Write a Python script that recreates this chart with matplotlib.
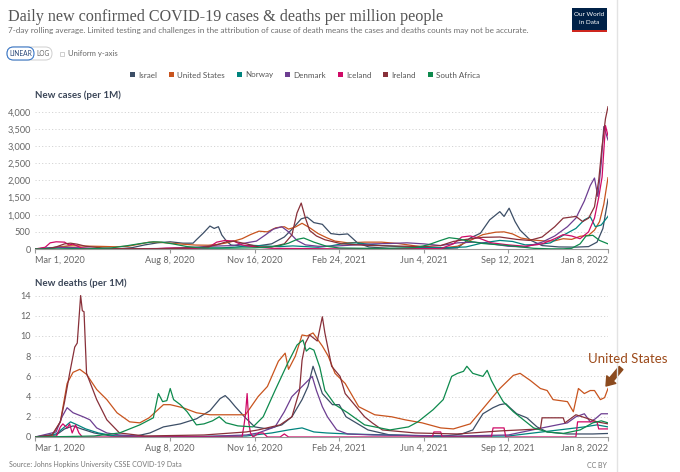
import numpy as np
import pandas as pd
import matplotlib
matplotlib.use("Agg")
import matplotlib.pyplot as plt
from matplotlib.patches import Patch, Rectangle, FancyBboxPatch
from matplotlib.transforms import Affine2D
from matplotlib.ticker import FuncFormatter

plt.rcParams["font.family"] = ["Lato", "DejaVu Sans"]

START = pd.Timestamp("2020-03-01")
END = pd.Timestamp("2022-01-08")

COUNTRIES = ["Israel", "United States", "Norway", "Denmark", "Iceland", "Ireland", "South Africa"]
COLORS = ["#3C4E66", "#C8541E", "#00847E", "#6D3E91", "#CF0A66", "#883039", "#0E8A4D"]

XTICK_DATES = ["2020-03-01", "2020-08-08", "2020-11-16", "2021-02-24", "2021-06-04", "2021-09-12", "2022-01-08"]
XTICK_LABELS = ["Mar 1, 2020", "Aug 8, 2020", "Nov 16, 2020", "Feb 24, 2021", "Jun 4, 2021", "Sep 12, 2021", "Jan 8, 2022"]

# ---- new cases per 1M (days since Mar 1 2020, value) ----
isr_c_d = [0, 15, 25, 35, 45, 60, 80, 100, 115, 130, 145, 160, 175, 187, 191, 199, 207, 212, 217, 221, 227, 232, 245, 260,
           280, 295, 305, 315, 322, 330, 340, 350, 360, 370, 382, 395, 420, 470, 500, 515, 527, 538, 550, 555, 561, 568,
           574, 586, 600, 620, 640, 655, 665, 672, 678]
isr_c = [0, 5, 40, 65, 40, 15, 5, 8, 40, 120, 180, 210, 170, 170, 270, 460, 670, 600, 650, 410, 215, 117, 85, 80,
         150, 350, 600, 880, 930, 770, 720, 450, 420, 440, 170, 60, 15, 5, 30, 320, 460, 850, 1090, 950, 1190, 800,
         550, 260, 100, 60, 55, 70, 200, 600, 1450]

us_c_d = [0, 15, 25, 40, 60, 80, 95, 110, 125, 135, 145, 160, 175, 190, 205, 215, 225, 235, 245, 255, 265, 275, 285,
          295, 300, 308, 316, 325, 335, 345, 355, 370, 390, 410, 430, 450, 470, 485, 500, 515, 530, 545, 555, 565, 575,
          590, 605, 615, 625, 635, 645, 655, 662, 668, 673, 678]
us_c = [0, 5, 50, 95, 85, 75, 65, 80, 150, 200, 200, 170, 140, 115, 110, 130, 170, 230, 300, 420, 520, 500, 620,
        650, 580, 640, 750, 620, 450, 330, 230, 180, 200, 200, 160, 90, 45, 40, 80, 250, 420, 490, 500, 440, 320,
        260, 230, 240, 300, 280, 370, 400, 550, 800, 1300, 2080]

no_c_d = [0, 15, 25, 35, 50, 80, 110, 140, 160, 180, 200, 220, 240, 255, 270, 290, 305, 320, 335, 350, 365, 380, 395,
          410, 430, 460, 490, 510, 530, 550, 565, 580, 595, 610, 625, 640, 650, 657, 663, 670, 678]
no_c = [0, 30, 50, 30, 10, 3, 2, 5, 10, 20, 25, 30, 60, 110, 90, 70, 90, 70, 50, 90, 160, 180, 140,
        100, 70, 40, 40, 60, 180, 250, 220, 120, 130, 180, 400, 600, 850, 940, 650, 700, 950]

dk_c_d = [0, 15, 30, 45, 60, 90, 120, 150, 170, 190, 205, 220, 235, 250, 262, 272, 282, 292, 300, 310, 320, 335, 350,
          365, 380, 400, 420, 440, 460, 480, 500, 520, 540, 560, 580, 600, 615, 630, 640, 650, 657, 662, 666, 670,
          673, 678]
dk_c = [0, 30, 50, 35, 25, 8, 8, 15, 30, 50, 80, 90, 100, 180, 230, 400, 580, 650, 500, 250, 120, 80, 80,
        100, 120, 150, 160, 180, 150, 100, 180, 200, 150, 80, 60, 200, 380, 650, 900, 1400, 1850, 2070, 1530, 2500,
        3570, 3180]

is_c_d = [0, 12, 18, 25, 35, 40, 45, 48, 55, 70, 100, 140, 155, 165, 185, 205, 215, 225, 235, 245, 260, 280, 300,
          330, 360, 400, 440, 480, 495, 505, 515, 525, 540, 560, 580, 600, 615, 625, 635, 645, 655, 662, 667, 671,
          675, 678]
is_c = [0, 50, 180, 210, 200, 120, 140, 110, 30, 3, 1, 5, 25, 30, 15, 40, 200, 250, 230, 120, 60, 20, 15,
        10, 5, 15, 10, 10, 150, 350, 380, 320, 180, 120, 80, 150, 300, 420, 380, 300, 500, 900, 1500, 2100,
        3600, 3300]

ie_c_d = [0, 15, 25, 35, 42, 50, 60, 80, 100, 130, 160, 180, 200, 215, 225, 235, 250, 265, 280, 295, 304, 310, 315,
          320, 325, 333, 343, 363, 390, 420, 460, 480, 495, 510, 530, 550, 570, 585, 600, 615, 625, 640, 648, 655,
          662, 667, 671, 675, 678]
ie_c = [0, 10, 60, 150, 170, 140, 80, 30, 10, 4, 10, 30, 50, 120, 200, 230, 150, 60, 60, 150, 410, 1050, 1340,
        900, 540, 380, 270, 150, 110, 90, 70, 100, 220, 280, 340, 350, 280, 250, 350, 650, 900, 950, 800, 900,
        1230, 2000, 3000, 3800, 4150]

za_c_d = [0, 30, 60, 90, 110, 125, 140, 150, 165, 180, 200, 230, 260, 275, 290, 300, 310, 318, 330, 345, 360, 390,
          420, 450, 465, 480, 490, 500, 515, 530, 545, 560, 575, 590, 610, 625, 635, 645, 652, 660, 668, 678]
za_c = [0, 5, 5, 30, 100, 160, 210, 200, 140, 70, 30, 25, 35, 50, 100, 170, 280, 320, 200, 80, 30, 20,
        20, 40, 120, 250, 330, 300, 220, 160, 130, 100, 60, 20, 5, 5, 20, 150, 380, 400, 250, 150]

# ---- new deaths per 1M ----
isr_m_d = [0, 25, 35, 45, 55, 70, 90, 120, 136, 152, 172, 191, 207, 219, 225, 230, 237, 249, 260, 275, 292, 304,
           316, 323, 329, 334, 340, 352, 360, 368, 380, 394, 420, 480, 505, 518, 530, 542, 550, 557, 562, 570, 582,
           594, 606, 630, 660, 678]
isr_m = [0, 0.2, 0.8, 1.1, 0.8, 0.4, 0.1, 0.1, 0.4, 1.0, 1.3, 1.8, 2.6, 3.8, 4.1, 3.7, 3.0, 1.9, 1.0, 0.8, 1.2, 2.0,
         3.7, 5.0, 7.0, 5.8, 4.3, 3.2, 3.2, 2.0, 1.4, 0.7, 0.2, 0.05, 0.3, 0.7, 2.3, 2.9, 3.2, 3.3, 2.9, 2.3, 1.9,
         1.0, 0.5, 0.3, 0.3, 0.35]

us_m_d = [0, 20, 30, 38, 45, 53, 61, 73, 85, 97, 112, 124, 135, 152, 160, 175, 191, 207, 231, 249, 264, 275, 288,
          296, 300, 308, 316, 322, 329, 340, 347, 355, 367, 383, 402, 422, 438, 458, 480, 495, 515, 535, 550, 566,
          574, 586, 598, 606, 613, 630, 637, 643, 650, 657, 662, 669, 674, 678]
us_m = [0, 0.1, 1.5, 5.3, 6.4, 6.7, 6.2, 4.7, 3.7, 2.4, 1.5, 1.4, 1.9, 3.2, 3.2, 2.9, 2.4, 2.2, 2.2, 2.2, 4.0, 5.0,
        7.5, 8.3, 6.7, 8.0, 10.1, 10.0, 10.3, 9.0, 8.0, 6.3, 5.3, 3.0, 2.2, 2.0, 1.7, 1.4, 0.9, 0.8, 1.3, 3.3, 4.8,
        6.1, 6.3, 5.6, 4.8, 4.6, 3.7, 3.5, 2.5, 4.8, 4.3, 4.6, 4.6, 3.7, 3.9, 4.8]

no_m_d = [0, 25, 35, 42, 50, 60, 75, 95, 130, 250, 280, 300, 316, 330, 345, 370, 420, 500, 560, 600, 630, 650, 665,
          678]
no_m = [0, 0.3, 1.0, 1.5, 1.2, 0.8, 0.4, 0.1, 0.0, 0.1, 0.4, 0.7, 0.9, 0.5, 0.4, 0.3, 0.2, 0.05, 0.1, 0.5, 0.8, 1.0,
        1.2, 1.0]

dk_m_d = [0, 25, 32, 38, 45, 57, 65, 73, 85, 100, 130, 200, 250, 264, 284, 295, 304, 316, 328, 333, 340, 346, 357,
          370, 400, 500, 560, 600, 630, 640, 650, 657, 663, 670, 678]
dk_m = [0, 0.5, 2.0, 2.9, 2.4, 2.0, 1.7, 0.9, 0.4, 0.2, 0.05, 0.05, 0.2, 0.4, 1.0, 2.5, 4.0, 5.0, 6.0, 4.6, 3.0, 2.0,
        0.7, 0.3, 0.2, 0.1, 0.2, 0.9, 1.4, 2.0, 2.3, 1.5, 1.8, 2.3, 2.3]

is_m_d = [0, 25, 30, 33, 38, 41, 44, 48, 52, 56, 60, 245, 247, 249, 251, 253, 255, 258, 265, 270, 275, 290, 295, 300,
          470, 472, 480, 482, 540, 542, 555, 557, 640, 642, 665, 667, 678]
is_m = [0, 0, 1.0, 1.3, 0.9, 1.3, 0.4, 1.2, 0.4, 0, 0, 0, 1.0, 2.2, 4.3, 1.4, 0.4, 0, 0.4, 0.4, 0, 0, 0.3, 0,
        0, 0.5, 0.5, 0, 0, 0.9, 0.9, 0, 0, 1.5, 1.5, 0.8, 0.8]

ie_m_d = [0, 20, 30, 35, 41, 47, 50, 54, 56, 58, 61, 67, 73, 85, 100, 130, 200, 250, 264, 290, 304, 313, 316, 320,
          325, 334, 340, 343, 351, 361, 367, 380, 390, 399, 411, 450, 500, 550, 598, 600, 625, 627, 640, 655, 665, 678]
ie_m = [0, 0.2, 1.5, 3.5, 6.3, 8.9, 9.3, 14.0, 12.5, 12.4, 6.3, 5.0, 3.7, 1.7, 0.4, 0.1, 0.2, 0.5, 0.7, 1.2, 2.0,
        4.6, 7.6, 9.3, 10.1, 9.5, 11.9, 10.3, 7.0, 6.0, 4.3, 3.0, 2.0, 1.4, 0.7, 0.4, 0.3, 0.6, 0.8, 1.9, 1.9,
        1.4, 2.2, 1.8, 1.5, 1.3]

za_m_d = [0, 40, 70, 100, 124, 140, 146, 151, 156, 160, 164, 172, 180, 191, 200, 210, 218, 226, 240, 258, 270, 284,
          299, 310, 317, 321, 325, 330, 337, 343, 355, 370, 390, 420, 442, 453, 471, 483, 493, 500, 507, 511, 518,
          530, 535, 540, 547, 554, 566, 578, 590, 606, 625, 645, 660, 670, 678]
za_m = [0, 0.05, 0.1, 0.4, 1.2, 1.9, 4.3, 3.5, 3.6, 4.8, 3.7, 3.2, 2.5, 1.2, 1.3, 1.6, 2.0, 1.4, 1.1, 1.0, 2.0, 4.6,
        7.3, 9.1, 9.6, 8.5, 8.8, 8.6, 6.9, 4.6, 3.2, 2.4, 1.2, 0.7, 1.0, 1.5, 2.7, 3.7, 6.0, 6.3, 6.5, 7.0, 6.3,
        6.0, 6.6, 5.6, 4.5, 3.5, 2.5, 1.7, 0.9, 0.5, 0.35, 0.7, 1.4, 1.6, 1.4]

CASES = [(isr_c_d, isr_c), (us_c_d, us_c), (no_c_d, no_c), (dk_c_d, dk_c), (is_c_d, is_c), (ie_c_d, ie_c), (za_c_d, za_c)]
DEATHS = [(isr_m_d, isr_m), (us_m_d, us_m), (no_m_d, no_m), (dk_m_d, dk_m), (is_m_d, is_m), (ie_m_d, ie_m), (za_m_d, za_m)]

W, H = 680, 472
fig = plt.figure(figsize=(W / 100, H / 100), dpi=100)
PX = Affine2D().scale(1, -1).translate(0, H)   # pixel coords, origin top-left


def fx(x):
    return x / W


def fy(y):
    return 1 - y / H


def to_dates(days):
    return START + pd.to_timedelta(np.asarray(days), unit="D")


def style_axis(ax, ymax, yticks, fmt):
    ax.set_xlim(START, END)
    ax.set_ylim(0, ymax)
    for s in ["top", "right", "left"]:
        ax.spines[s].set_visible(False)
    ax.spines["bottom"].set_color("#999999")
    ax.spines["bottom"].set_linewidth(0.8)
    ax.set_yticks(yticks)
    ax.yaxis.set_major_formatter(FuncFormatter(fmt))
    ax.tick_params(axis="y", length=0, pad=3, labelsize=6.6, labelcolor="#666666")
    ax.yaxis.grid(True, linestyle=(0, (1.2, 2.2)), color="#d4d4d4", lw=0.7)
    ax.set_axisbelow(True)
    ax.set_xticks(pd.to_datetime(XTICK_DATES))
    ax.set_xticklabels(XTICK_LABELS)
    ax.tick_params(axis="x", length=3, color="#999999", pad=2, labelsize=6.6, labelcolor="#666666")
    labs = ax.get_xticklabels()
    labs[0].set_ha("left")
    labs[-1].set_ha("right")


ax1 = fig.add_axes([fx(35), fy(249), (608 - 35) / W, (249 - 105) / H])
ax2 = fig.add_axes([fx(35), fy(437), (608 - 35) / W, (437 - 290) / H])

for (d, v), col in zip(CASES, COLORS):
    ax1.plot(to_dates(d), v, color=col, lw=0.9, solid_joinstyle="round")
for (d, v), col in zip(DEATHS, COLORS):
    ax2.plot(to_dates(d), v, color=col, lw=0.9, solid_joinstyle="round")

style_axis(ax1, 4200, np.arange(0, 4001, 500), lambda v, p: f"{int(v):,}")
style_axis(ax2, 14.55, np.arange(0, 15, 2), lambda v, p: f"{int(v)}")

fig.text(fx(35), fy(95), "New cases (per 1M)", fontsize=7, weight="bold", color="#3b4658", va="center")
fig.text(fx(35), fy(283), "New deaths (per 1M)", fontsize=7, weight="bold", color="#3b4658", va="center")

# header
fig.text(fx(8), fy(17), "Daily new confirmed COVID-19 cases & deaths per million people",
         family=["Liberation Serif", "DejaVu Serif"], fontsize=11.6, color="#555555", va="center")
fig.text(fx(8), fy(31), "7-day rolling average. Limited testing and challenges in the attribution of cause of death "
         "means the cases and deaths counts may not be accurate.", fontsize=5.9, color="#6e6e6e", va="center")

# LINEAR / LOG toggle and checkbox
fig.add_artist(FancyBboxPatch((7, 47), 45, 13, boxstyle="round,pad=0,rounding_size=6.5",
                              transform=PX, fc="white", ec="#cfcfcf", lw=0.7))
fig.add_artist(FancyBboxPatch((7, 47), 27, 13, boxstyle="round,pad=0,rounding_size=6.5",
                              transform=PX, fc="white", ec="#3a78c8", lw=0.8))
fig.text(fx(20.5), fy(53.5), "LINEAR", fontsize=4.8, color="#2d4a7a", ha="center", va="center")
fig.text(fx(43), fy(53.5), "LOG", fontsize=4.8, color="#666666", ha="center", va="center")
fig.add_artist(Rectangle((60, 52), 4, 4, transform=PX, fc="white", ec="#bbbbbb", lw=0.5))
fig.text(fx(68), fy(53.5), "Uniform y-axis", fontsize=5.6, color="#666666", va="center")

# legend
handles = [Patch(fc=c, ec="none") for c in COLORS]
fig.legend(handles, COUNTRIES, loc="center", bbox_to_anchor=(fx(305), fy(75)), ncol=7, frameon=False,
           fontsize=5.8, handlelength=0.65, handleheight=0.65, handletextpad=0.4, columnspacing=1.45,
           labelcolor="#555555", borderaxespad=0, borderpad=0)

# OWID logo
fig.add_artist(Rectangle((572, 8), 35, 24, transform=PX, fc="#002147", ec="none"))
fig.add_artist(Rectangle((572, 30), 35, 2.2, transform=PX, fc="#ce261e", ec="none"))
fig.text(fx(589.5), fy(15), "Our World", fontsize=4.6, color="white", ha="center", va="center")
fig.text(fx(589.5), fy(23), "in Data", fontsize=4.6, color="white", ha="center", va="center")

# right frame border
fig.add_artist(plt.Line2D([617, 617], [0, H], transform=PX, color="#e3e3e3", lw=1))

# footer
fig.text(fx(9), fy(465), "Source: Johns Hopkins University CSSE COVID-19 Data", fontsize=5.0, color="#777777",
         va="center")
fig.text(fx(607), fy(465), "CC BY", fontsize=5.0, color="#777777", va="center", ha="right")

# United States callout
fig.text(fx(628), fy(359), "United States", fontsize=9.5, color="#9C4A1A", ha="center", va="center")
ax2.annotate("", xy=(fx(606), fy(386)), xycoords="figure fraction", xytext=(fx(621), fy(368)),
             textcoords="figure fraction",
             arrowprops=dict(width=3.5, headwidth=8.5, headlength=6, color="#8B4A1E", shrink=0))

fig.savefig("out.png", dpi=100)
